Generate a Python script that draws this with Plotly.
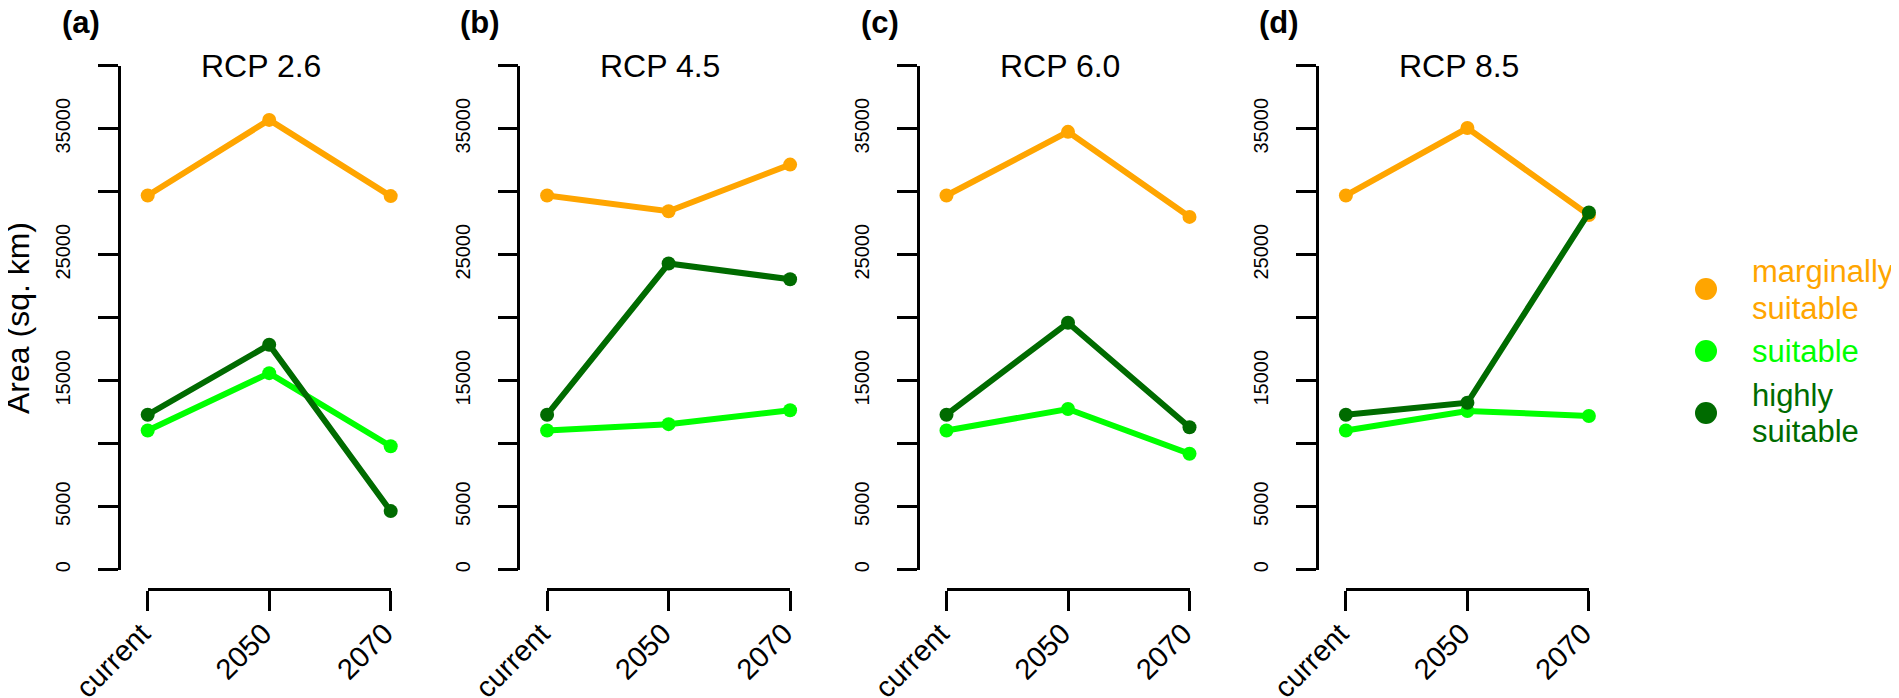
import plotly.graph_objects as go

# ---------------- data ----------------
scenarios = ["RCP 2.6", "RCP 4.5", "RCP 6.0", "RCP 8.5"]
panel_labels = ["(a)", "(b)", "(c)", "(d)"]
periods = ["current", "2050", "2070"]

marginally_suitable = [
    [29700, 35700, 29650],
    [29700, 28450, 32150],
    [29700, 34750, 28000],
    [29700, 35050, 28150],
]
suitable = [
    [11050, 15600, 9800],
    [11050, 11550, 12650],
    [11050, 12750, 9200],
    [11050, 12600, 12200],
]
highly_suitable = [
    [12300, 17850, 4650],
    [12300, 24300, 23050],
    [12300, 19600, 11300],
    [12300, 13250, 28350],
]

series_names = ["marginally suitable", "suitable", "highly suitable"]
series_colors = ["#FFA500", "#00FF00", "#006B00"]
legend_lines = [["marginally", "suitable"], ["suitable"], ["highly", "suitable"]]

y_tickvals = [0, 5000, 10000, 15000, 20000, 25000, 30000, 35000, 40000]
y_ticktext = ["0", "5000", "", "15000", "", "25000", "", "35000", ""]

# ---------------- layout geometry (pixels in the target picture) ----------------
W, H = 1899, 698
OFF = 8  # page body margin of the html page
FONT = "Liberation Sans, Arial, Helvetica, sans-serif"
panel_dx = 399.4
x_left, x_right = 147.7, 390.7
yaxis_px = 119.0
y_top, y_bot = 65.7, 569.7
xaxis_py = 589.3


def px(x):
    return (x - OFF) / W


def py(y):
    return 1 - (y - OFF) / H


fig = go.Figure()
layout = dict(
    width=W, height=H, autosize=False,
    margin=dict(l=0, r=0, t=0, b=0, pad=0, autoexpand=False),
    paper_bgcolor="white", plot_bgcolor="white",
    showlegend=False,
    font=dict(family=FONT, color="black"),
)
annotations = []
shapes = []

for i in range(4):
    dx = panel_dx * i
    suffix = "" if i == 0 else str(i + 1)
    xa, ya = "x" + suffix, "y" + suffix
    for name, vals, col in zip(series_names,
                               [marginally_suitable[i], suitable[i], highly_suitable[i]],
                               series_colors):
        fig.add_trace(go.Scatter(
            x=periods, y=vals, mode="lines+markers", name=name,
            line=dict(color=col, width=6),
            marker=dict(color=col, size=14),
            cliponaxis=False, xaxis=xa, yaxis=ya,
        ))
    layout["xaxis" + suffix] = dict(
        domain=[px(x_left + dx), px(x_right + dx)],
        anchor="free", position=py(xaxis_py),
        type="category", range=[0, 2], automargin=False,
        showline=True, linecolor="black", linewidth=2.5,
        ticks="outside", ticklen=20, tickwidth=2.5, tickcolor="black",
        tickangle=-45, tickfont=dict(size=29, family=FONT),
        ticklabelstandoff=-6, ticklabelshift=-6,
        showgrid=False, zeroline=False,
    )
    layout["yaxis" + suffix] = dict(
        domain=[py(y_bot), py(y_top)],
        anchor="free", position=px(yaxis_px + dx),
        range=[0, 40000], automargin=False,
        tickmode="array", tickvals=y_tickvals, ticktext=y_ticktext,
        showline=True, linecolor="black", linewidth=2.5,
        ticks="outside", ticklen=20, tickwidth=2.5, tickcolor="black",
        tickangle=-90, tickfont=dict(size=20, family=FONT),
        ticklabelstandoff=20,
        showgrid=False, zeroline=False,
    )
    # panel title
    annotations.append(dict(
        x=px(261 + dx), y=py(66), xref="paper", yref="paper",
        text=scenarios[i], showarrow=False, xanchor="center", yanchor="middle",
        font=dict(size=32, family=FONT, color="black"),
    ))
    # panel label
    annotations.append(dict(
        x=px(81 + dx), y=py(23), xref="paper", yref="paper",
        text="<b>" + panel_labels[i] + "</b>", showarrow=False,
        xanchor="center", yanchor="middle",
        font=dict(size=31, family=FONT, color="black"),
    ))

# y axis title
annotations.append(dict(
    x=px(18), y=py(318), xref="paper", yref="paper",
    text="Area (sq. km)", showarrow=False, textangle=-90,
    xanchor="center", yanchor="middle",
    font=dict(size=32, family=FONT, color="black"),
))

# legend (manual)
legend_marker_y = [289, 351, 413]
legend_line_y = [[271.7, 308], [351.7], [395, 431.7]]
for col, my, lines, lys in zip(series_colors, legend_marker_y, legend_lines, legend_line_y):
    r = 11
    shapes.append(dict(
        type="circle", xref="paper", yref="paper",
        x0=px(1706 - r), x1=px(1706 + r), y0=py(my + r), y1=py(my - r),
        fillcolor=col, line=dict(color=col, width=0),
    ))
    for t, ly in zip(lines, lys):
        annotations.append(dict(
            x=px(1750), y=py(ly), xref="paper", yref="paper",
            text=t, showarrow=False, xanchor="left", yanchor="middle",
            font=dict(size=31, family=FONT, color=col),
        ))

layout["annotations"] = annotations
layout["shapes"] = shapes
fig.update_layout(**layout)
fig.write_html("out.html")
